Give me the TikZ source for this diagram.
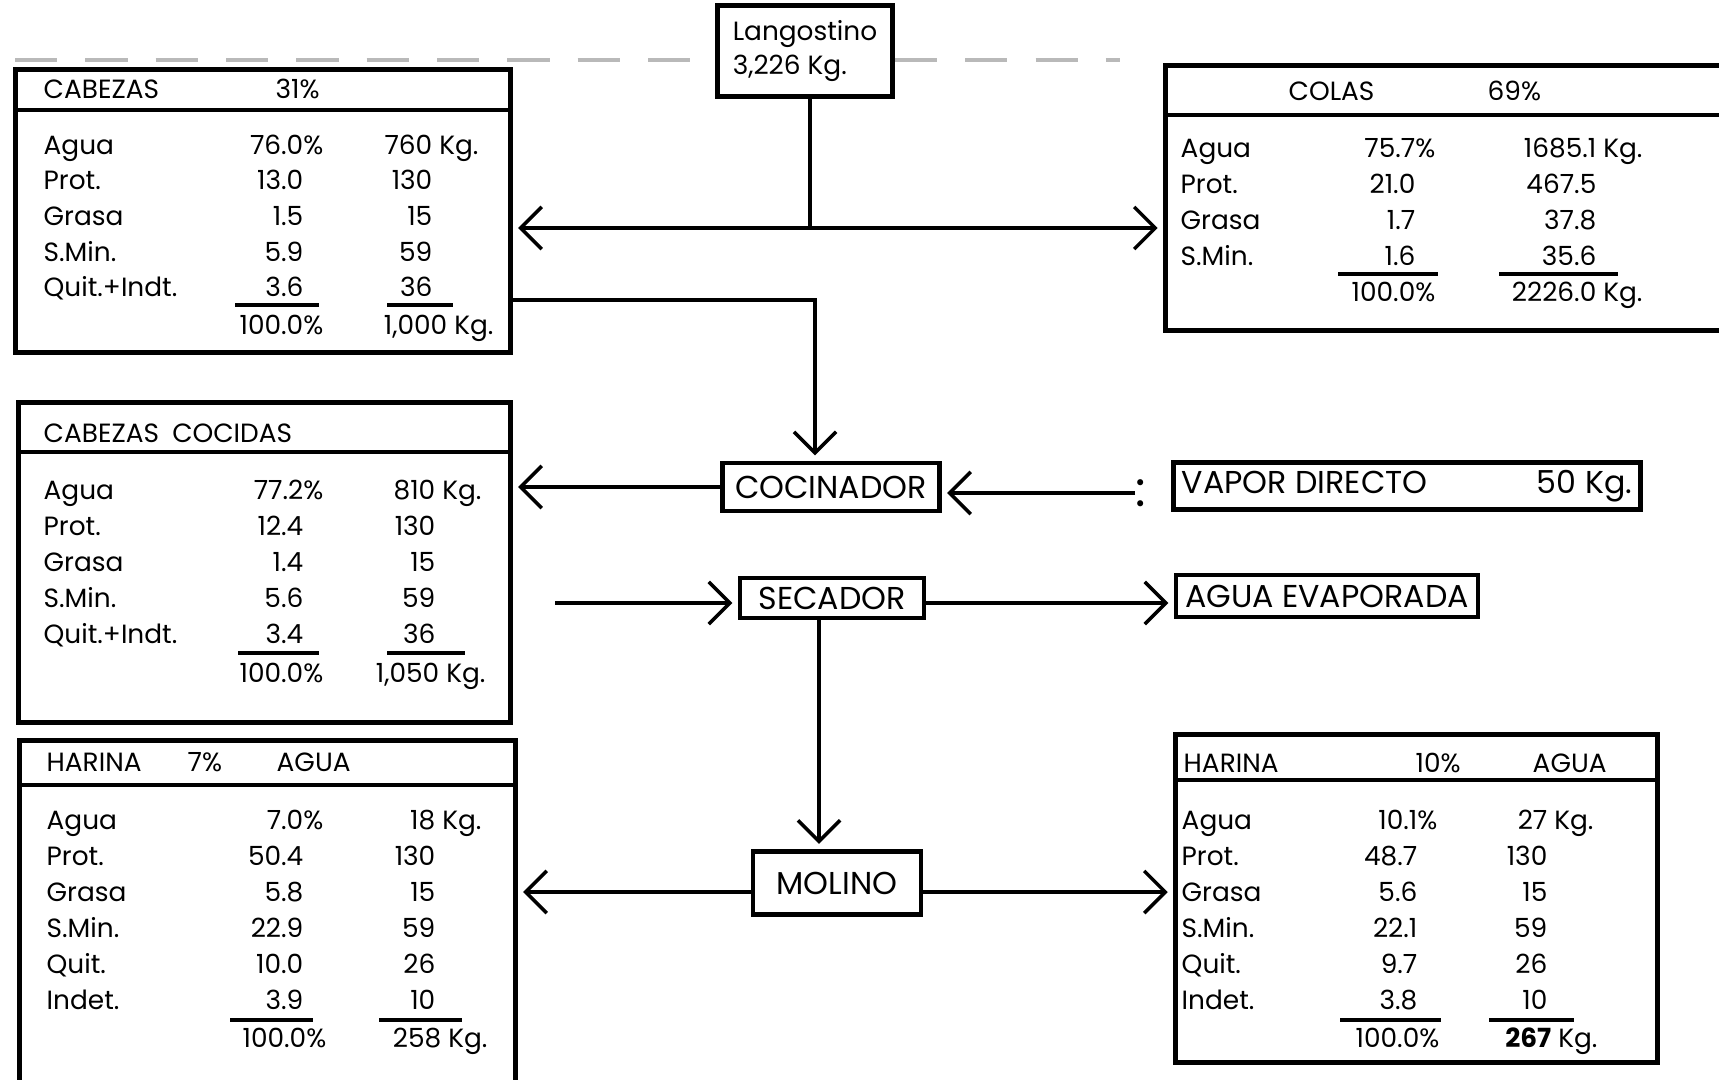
\documentclass[tikz,border=0pt]{standalone}
\usepackage{fontspec}
\setmainfont{Poppins}
\usetikzlibrary{arrows.meta,calc,positioning}

\tikzset{
  linea/.style={line width=1.3pt},
  caja/.style={draw, linea, inner sep=0pt},
  proceso/.style={caja, inner sep=2pt, font=\fontsize{9}{10}\selectfont},
  dato/.style={inner sep=0pt, font=\fontsize{7.5}{9}\selectfont},
  flecha/.style={line width=1pt, -{Straight Barb[length=6pt,width=12pt]}, shorten >=1.5pt},
  raya/.style={line width=1pt},
  guion/.style={gray!55, line width=1pt, dash pattern=on 12pt off 8pt},
}

\begin{document}
\begin{tikzpicture}[x=0.01cm, y=-0.01cm]
  \useasboundingbox (0,0) rectangle (1719,1079);
  \fill[white] (0,0) rectangle (1719,1079);
  \clip (0,0) rectangle (1719,1079);

  % procesos
  \node[proceso, align=left, font=\fontsize{7.5}{9.5}\selectfont,
        minimum width=1.75cm, minimum height=0.91cm] (lang) at (805,51) {Langostino\\3,226 Kg.};
  \node[proceso, minimum width=2.17cm, minimum height=0.48cm] (coc) at (831,487) {COCINADOR};
  \node[proceso, minimum width=1.84cm, minimum height=0.40cm] (sec) at (832,598) {SECADOR};
  \node[proceso, minimum width=1.68cm, minimum height=0.63cm] (mol) at (837,883) {MOLINO};
  \node[proceso, minimum width=4.67cm, minimum height=0.47cm] (vap) at (1407,486)
    {\makebox[4.5cm]{VAPOR DIRECTO\hfill 50 Kg.}};
  \node[proceso, minimum width=3.02cm, minimum height=0.42cm] (evap) at (1327,596) {AGUA EVAPORADA};
  \node[inner sep=0pt, font=\fontsize{14}{14}\selectfont] (puntos) at (1141,493) {:};

  % tablas
  \node[caja, anchor=north west, minimum width=4.95cm, minimum height=2.83cm] (cab) at (13,67) {};
  \node[caja, anchor=north west, minimum width=6.00cm, minimum height=2.65cm] (col) at (1163,63) {};
  \node[caja, anchor=north west, minimum width=4.92cm, minimum height=3.20cm] (cabcoc) at (16,400) {};
  \node[caja, anchor=north west, minimum width=4.96cm, minimum height=4.00cm] (har7) at (17,738) {};
  \node[caja, anchor=north west, minimum width=4.82cm, minimum height=3.28cm] (har10) at (1173,732) {};
  \foreach \t/\h in {cab/43, col/52, cabcoc/52, har7/47, har10/48}
    \draw[linea] ($(\t.north west)+(0,\h)$) -- ($(\t.north east)+(0,\h)$);

  % guiones de arriba
  \coordinate (g1) at (15,60);
  \coordinate (g2) at (1120,60);
  \draw[guion] (g1) -- (g1 -| lang.west);
  \draw[guion] (g2 -| lang.east) -- (g2);

  % conexiones
  \coordinate (cruce) at (810,228);
  \draw[raya] (lang.south -| cruce) -- (cruce);
  \draw[flecha] (cruce) -- (cruce -| cab.east);
  \draw[flecha] (cruce) -- (cruce -| col.west);
  \coordinate (codo) at (815,300);
  \draw[flecha] (codo -| cab.east) -- (codo) -- (codo |- coc.north);
  \draw[flecha] (coc.west) -- (coc.west -| cabcoc.east);
  \draw[flecha] (puntos.west) -- (puntos.west -| coc.east);
  \coordinate (entrada) at (555,603);
  \draw[flecha] (entrada) -- (entrada -| sec.west);
  \draw[flecha] (entrada -| sec.east) -- (entrada -| evap.west);
  \coordinate (bajada) at (819,0);
  \draw[flecha] (sec.south -| bajada) -- (mol.north -| bajada);
  \coordinate (salida) at (0,892);
  \draw[flecha] (salida -| mol.west) -- (salida -| har7.east);
  \draw[flecha] (salida -| mol.east) -- (salida -| har10.west);

  % CABEZAS
  \node[dato, anchor=base west] (cab-t) at (43,99) {CABEZAS};
  \node[dato, anchor=base west] (cab-tp) at (275,99) {31\%};
  \foreach \lab/\pct/\kg [count=\i from 0] in {Agua/76.0\rlap{\%}/760\rlap{~Kg.}, Prot./13.0/130,
      Grasa/1.5/15, S.Min./5.9/59, Quit.+Indt./3.6/36} {
    \node[dato, anchor=base west] (cab-n\i) at (43,{154+35.7*\i}) {\lab};
    \node[dato, anchor=base east] (cab-p\i) at (304,{154+35.7*\i}) {\pct};
    \node[dato, anchor=base east] (cab-k\i) at (433,{154+35.7*\i}) {\kg};
  }
  \node[dato, anchor=base east] (cab-sp) at (304,334) {100.0\rlap{\%}};
  \node[dato, anchor=base east] (cab-sk) at (448,334) {1,000\rlap{~Kg.}};

  % COLAS
  \node[dato, anchor=base west] (col-t) at (1288,101) {COLAS};
  \node[dato, anchor=base west] (col-tp) at (1487,101) {69\%};
  \foreach \lab/\pct/\kg [count=\i from 0] in {Agua/75.7\rlap{\%}/1685.1\rlap{~Kg.}, Prot./21.0/467.5,
      Grasa/1.7/37.8, S.Min./1.6/35.6} {
    \node[dato, anchor=base west] (col-n\i) at (1180,{157+36*\i}) {\lab};
    \node[dato, anchor=base east] (col-p\i) at (1416,{157+36*\i}) {\pct};
    \node[dato, anchor=base east] (col-k\i) at (1597,{157+36*\i}) {\kg};
  }
  \node[dato, anchor=base east] (col-sp) at (1416,301) {100.0\rlap{\%}};
  \node[dato, anchor=base east] (col-sk) at (1597,301) {2226.0\rlap{~Kg.}};

  % CABEZAS COCIDAS
  \node[dato, anchor=base west] (cc-t) at (43,442) {CABEZAS\hspace{0.5em}COCIDAS};
  \foreach \lab/\pct/\kg [count=\i from 0] in {Agua/77.2\rlap{\%}/810\rlap{~Kg.}, Prot./12.4/130,
      Grasa/1.4/15, S.Min./5.6/59, Quit.+Indt./3.4/36} {
    \node[dato, anchor=base west] (cc-n\i) at (43,{499+36*\i}) {\lab};
    \node[dato, anchor=base east] (cc-p\i) at (304,{499+36*\i}) {\pct};
    \node[dato, anchor=base east] (cc-k\i) at (436,{499+36*\i}) {\kg};
  }
  \node[dato, anchor=base east] (cc-sp) at (304,682) {100.0\rlap{\%}};
  \node[dato, anchor=base east] (cc-sk) at (440,682) {1,050\rlap{~Kg.}};

  % HARINA 7%
  \node[dato, anchor=base west] (h7-t) at (46,771) {HARINA};
  \node[dato, anchor=base west] (h7-tp) at (187,771) {7\%};
  \node[dato, anchor=base west] (h7-ta) at (276,771) {AGUA};
  \foreach \lab/\pct/\kg [count=\i from 0] in {Agua/7.0\rlap{\%}/18\rlap{~Kg.}, Prot./50.4/130,
      Grasa/5.8/15, S.Min./22.9/59, Quit./10.0/26, Indet./3.9/10} {
    \node[dato, anchor=base west] (h7-n\i) at (46,{829+36*\i}) {\lab};
    \node[dato, anchor=base east] (h7-p\i) at (304,{829+36*\i}) {\pct};
    \node[dato, anchor=base east] (h7-k\i) at (436,{829+36*\i}) {\kg};
  }
  \node[dato, anchor=base east] (h7-sp) at (307,1047) {100.0\rlap{\%}};
  \node[dato, anchor=base east] (h7-sk) at (442,1047) {258\rlap{~Kg.}};

  % HARINA 10%
  \node[dato, anchor=base west] (h10-t) at (1183,772) {HARINA};
  \node[dato, anchor=base west] (h10-tp) at (1415,772) {10\%};
  \node[dato, anchor=base west] (h10-ta) at (1532,772) {AGUA};
  \foreach \lab/\pct/\kg [count=\i from 0] in {Agua/10.1\rlap{\%}/27\rlap{~Kg.}, Prot./48.7/130,
      Grasa/5.6/15, S.Min./22.1/59, Quit./9.7/26, Indet./3.8/10} {
    \node[dato, anchor=base west] (h10-n\i) at (1181,{829+36*\i}) {\lab};
    \node[dato, anchor=base east] (h10-p\i) at (1418,{829+36*\i}) {\pct};
    \node[dato, anchor=base east] (h10-k\i) at (1548,{829+36*\i}) {\kg};
  }
  \node[dato, anchor=base east] (h10-sp) at (1420,1047) {100.0\rlap{\%}};
  \node[dato, anchor=base east] (h10-sk) at (1552,1047) {\textbf{267}\rlap{~Kg.}};

  % rayas de suma
  \foreach \a/\b/\y in {235/319/305, 387/453/305, 1338/1438/274, 1499/1618/274,
      238/319/653, 387/465/653, 230/313/1020, 379/462/1020, 1340/1441/1020, 1489/1574/1020}
    \draw[raya] (\a,\y) -- (\b,\y);
\end{tikzpicture}
\end{document}
